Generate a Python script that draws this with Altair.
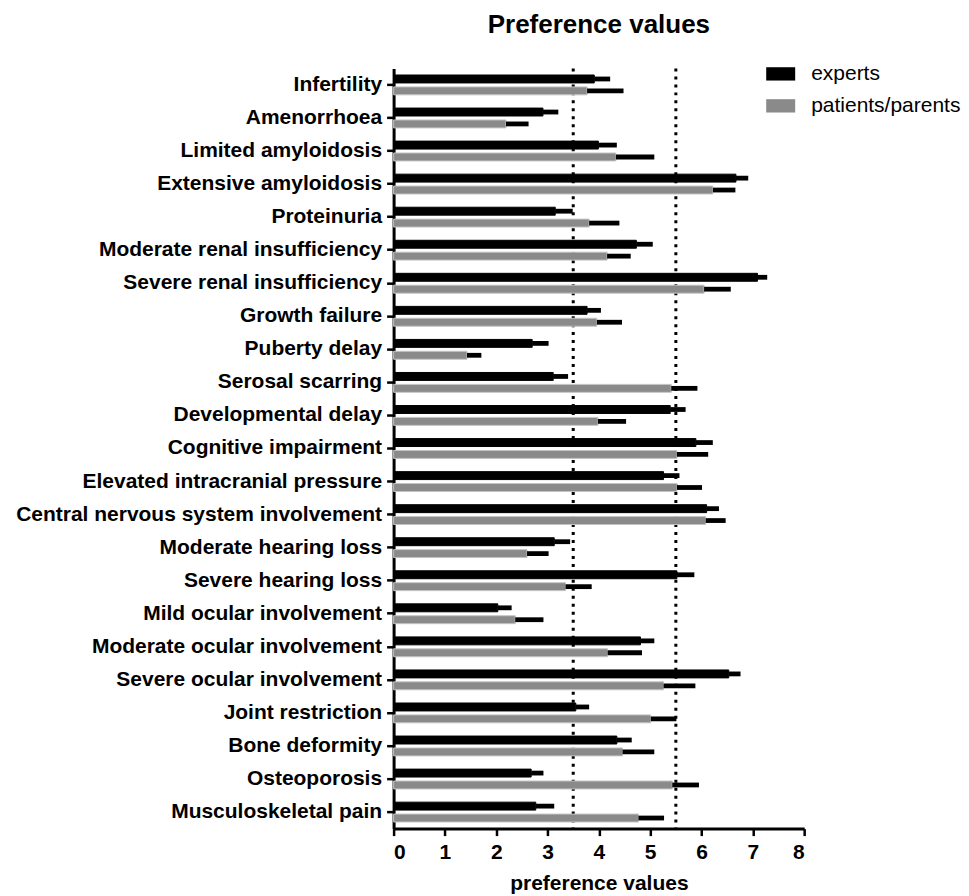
import altair as alt
import pandas as pd

categories = ["Infertility", "Amenorrhoea", "Limited amyloidosis", "Extensive amyloidosis",
              "Proteinuria", "Moderate renal insufficiency", "Severe renal insufficiency",
              "Growth failure", "Puberty delay", "Serosal scarring", "Developmental delay",
              "Cognitive impairment", "Elevated intracranial pressure",
              "Central nervous system involvement", "Moderate hearing loss", "Severe hearing loss",
              "Mild ocular involvement", "Moderate ocular involvement", "Severe ocular involvement",
              "Joint restriction", "Bone deformity", "Osteoporosis", "Musculoskeletal pain"]

experts_mean = [3.91, 2.91, 3.99, 6.67, 3.15, 4.73, 7.09, 3.77, 2.70, 3.11, 5.39, 5.89,
                5.26, 6.10, 3.13, 5.52, 2.03, 4.81, 6.53, 3.55, 4.35, 2.68, 2.77]
experts_upper = [4.22, 3.21, 4.35, 6.91, 3.49, 5.05, 7.28, 4.04, 3.02, 3.40, 5.69, 6.22,
                 5.57, 6.34, 3.44, 5.86, 2.30, 5.08, 6.76, 3.81, 4.64, 2.92, 3.13]
patients_mean = [3.77, 2.19, 4.33, 6.22, 3.81, 4.16, 6.05, 3.96, 1.43, 5.41, 3.98, 5.52,
                 5.52, 6.08, 2.60, 3.35, 2.37, 4.17, 5.26, 5.01, 4.46, 5.43, 4.77]
patients_upper = [4.48, 2.63, 5.08, 6.66, 4.40, 4.62, 6.57, 4.45, 1.71, 5.92, 4.53, 6.13,
                  6.01, 6.47, 3.02, 3.86, 2.92, 4.84, 5.88, 5.51, 5.08, 5.95, 5.27]

groups = ["experts", "patients/parents"]
colors = ["#000000", "#8a8a8a"]
outline = ["#000000", "#c4c4c4"]
thresholds = [3.5, 5.5]
x_ticks = [0, 1, 2, 3, 4, 5, 6, 7, 8]

rows = []
for i, c in enumerate(categories):
    rows.append({"category": c, "group": groups[0], "mean": experts_mean[i], "upper": experts_upper[i]})
    rows.append({"category": c, "group": groups[1], "mean": patients_mean[i], "upper": patients_upper[i]})
df = pd.DataFrame(rows)
ref_df = pd.DataFrame({"mean": thresholds})

FONT = "Liberation Sans"

x_axis = alt.Axis(title="preference values", values=x_ticks, grid=False,
                  labelFont=FONT, labelFontSize=21, labelFontWeight="bold", labelColor="black",
                  labelPadding=6, tickSize=7, tickWidth=2.5, tickColor="black",
                  domainWidth=3, domainColor="black",
                  titleFont=FONT, titleFontSize=21, titleFontWeight="bold", titleColor="black",
                  titlePadding=10)
x_scale = alt.Scale(domain=[0, 8], nice=False, zero=True)

y_axis = alt.Axis(title=None, labelFont=FONT, labelFontSize=21, labelFontWeight="bold",
                  labelColor="black", labelPadding=5, tickSize=7, tickWidth=2.5,
                  tickColor="black", domainWidth=3, domainColor="black", labelLimit=600)
y_scale = alt.Scale(paddingInner=0.4, paddingOuter=0.2)
yoff = alt.YOffset("group:N", sort=groups, scale=alt.Scale(paddingInner=0.333, paddingOuter=0))

ref = alt.Chart(ref_df).mark_rule(color="black", strokeWidth=3, strokeDash=[3, 5]).encode(
    x=alt.X("mean:Q", scale=x_scale, axis=x_axis)
)

bars = alt.Chart(df).mark_bar(strokeWidth=1).encode(
    x=alt.X("mean:Q", scale=x_scale, axis=x_axis),
    y=alt.Y("category:N", sort=categories, scale=y_scale, axis=y_axis),
    yOffset=yoff,
    color=alt.Color("group:N", sort=groups, scale=alt.Scale(domain=groups, range=colors),
                    legend=alt.Legend(title=None, orient="none", legendX=373, legendY=-9,
                                      symbolType="M-1,-0.46H1V0.46H-1Z", symbolSize=841,
                                      symbolStrokeWidth=0, symbolOpacity=1,
                                      labelFont=FONT, labelFontSize=21, labelColor="black",
                                      labelOffset=16, rowPadding=7)),
    stroke=alt.Stroke("group:N", sort=groups, scale=alt.Scale(domain=groups, range=outline),
                      legend=None),
)

errs = alt.Chart(df).mark_rule(color="black", strokeWidth=4.8).encode(
    x=alt.X("mean:Q", scale=x_scale, axis=x_axis),
    x2="upper:Q",
    y=alt.Y("category:N", sort=categories, scale=y_scale, axis=y_axis),
    yOffset=yoff,
)

chart = alt.layer(ref, bars, errs).properties(
    width=411,
    height=761,
    padding={"left": 7, "top": 4, "right": 0, "bottom": 0},
    title=alt.Title("Preference values", fontSize=26, font=FONT, fontWeight="bold",
                    color="black", offset=21),
).configure_view(stroke=None)

chart.save("out.html", embed_options={"renderer": "svg", "actions": False})
